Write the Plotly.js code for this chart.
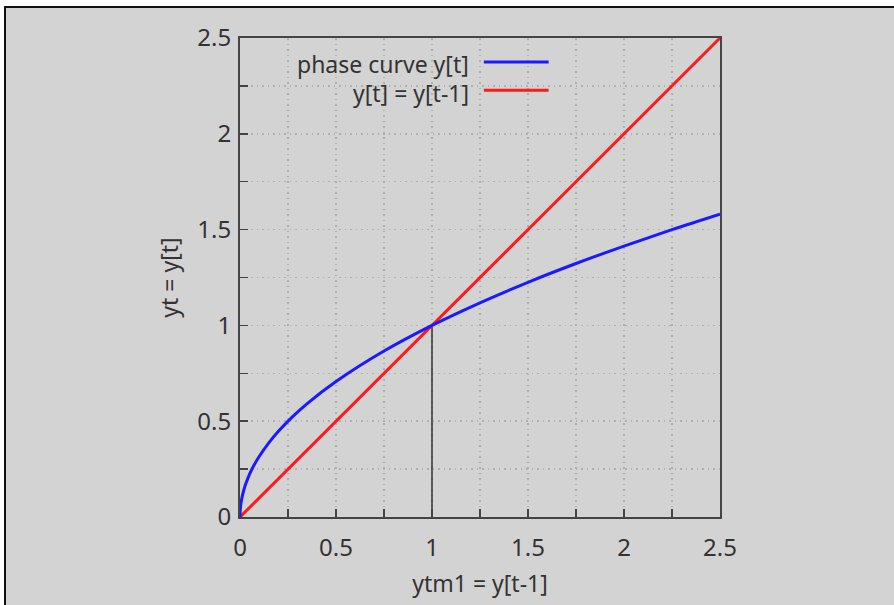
<!DOCTYPE html>
<html>
<head>
<meta charset="utf-8">
<script src="https://cdn.plot.ly/plotly-3.0.1.min.js"></script>
<style>
  body { margin: 0; background: #fff; }
  #frame { position: absolute; left: 4px; top: 6px; border-left: 2px solid #111; border-top: 2px solid #111; }
  #grafico { width: 890px; height: 600px; }
</style>
</head>
<body>
<div id="frame"><div id="grafico"></div></div>
<script>
// phase curve y[t] against y[t-1]
let ytm1 = [0, 0.002, 0.005, 0.01, 0.02, 0.03, 0.05, 0.07, 0.1, 0.15, 0.2, 0.27, 0.35, 0.5, 0.75, 1, 1.25, 1.5, 1.75, 2, 2.25, 2.5];
let yt   = [0, 0.045, 0.071, 0.1, 0.141, 0.173, 0.224, 0.265, 0.316, 0.387, 0.447, 0.52, 0.592, 0.707, 0.866, 1, 1.118, 1.225, 1.323, 1.414, 1.5, 1.581];

// 45 degree line y[t] = y[t-1]
let diagX = [0, 2.5];
let diagY = [0, 2.5];

// steady state marker
let steadyX = [1, 1];
let steadyY = [0, 1];

let legendNames = ['phase curve y[t]', 'y[t] = y[t-1]'];
let tickVals = [0, 0.5, 1, 1.5, 2, 2.5];
let tickText = ['0', '0.5', '1', '1.5', '2', '2.5'];

let fontFam = '"Noto Sans", "Open Sans", sans-serif';
let txtCol = '#333';

function makeAxis(title) {
    return {
        range: [0, 2.5],
        tickvals: tickVals,
        ticktext: tickText,
        ticks: 'inside',
        ticklen: 8,
        tickwidth: 1.5,
        tickcolor: '#444',
        showline: true,
        linecolor: '#444',
        linewidth: 2,
        mirror: true,
        showgrid: true,
        gridcolor: '#b0b0b0',
        griddash: '1.5px,4px',
        gridwidth: 1.5,
        minor: {
            dtick: 0.25,
            ticks: 'inside',
            ticklen: 8,
            tickcolor: '#444',
            showgrid: true,
            gridcolor: '#b0b0b0',
            griddash: '1.5px,4px',
            gridwidth: 1.5
        },
        zeroline: false,
        tickfont: { family: fontFam, size: 24, color: txtCol },
        title: { text: title, font: { family: fontFam, size: 23, color: txtCol } },
        fixedrange: true
    };
}

let traces = [
    { x: steadyX, y: steadyY, mode: 'lines', line: { color: '#333', width: 1.5 }, showlegend: false, hoverinfo: 'skip' },
    { x: diagX, y: diagY, mode: 'lines', name: legendNames[1], line: { color: '#ff1a1a', width: 3 }, showlegend: false },
    { x: ytm1, y: yt, mode: 'lines', name: legendNames[0], line: { color: '#1a1aff', width: 3, shape: 'spline', smoothing: 1 }, showlegend: false }
];

// legend drawn by hand: text on the left, line sample on the right (gnuplot style)
let legendCols = ['#1a1aff', '#ff1a1a'];
let annotations = legendNames.map((n, i) => ({
    xref: 'paper', yref: 'paper', x: 0.482, y: 0.945 - i * 0.059,
    xanchor: 'right', yanchor: 'middle', showarrow: false, text: n,
    font: { family: fontFam, size: 23, color: txtCol }
}));
let shapes = legendNames.map((n, i) => ({
    type: 'line', xref: 'paper', yref: 'paper',
    x0: 0.508, x1: 0.643, y0: 0.95 - i * 0.059, y1: 0.95 - i * 0.059,
    line: { color: legendCols[i], width: 3 }
}));

let xa = makeAxis('ytm1 = y[t-1]');
xa.ticklabelstandoff = 8;
xa.title.standoff = 14;
let ya = makeAxis('yt = y[t]');
ya.ticklabelstandoff = 2;
ya.title.standoff = 12;

let layout = {
    width: 890,
    height: 600,
    margin: { l: 234, r: 176, t: 30, b: 91 },
    paper_bgcolor: '#d3d3d3',
    plot_bgcolor: '#d3d3d3',
    xaxis: xa,
    yaxis: ya,
    annotations: annotations,
    shapes: shapes,
    showlegend: false
};

Plotly.newPlot('grafico', traces, layout, { displayModeBar: false, staticPlot: true });
</script>
</body>
</html>
